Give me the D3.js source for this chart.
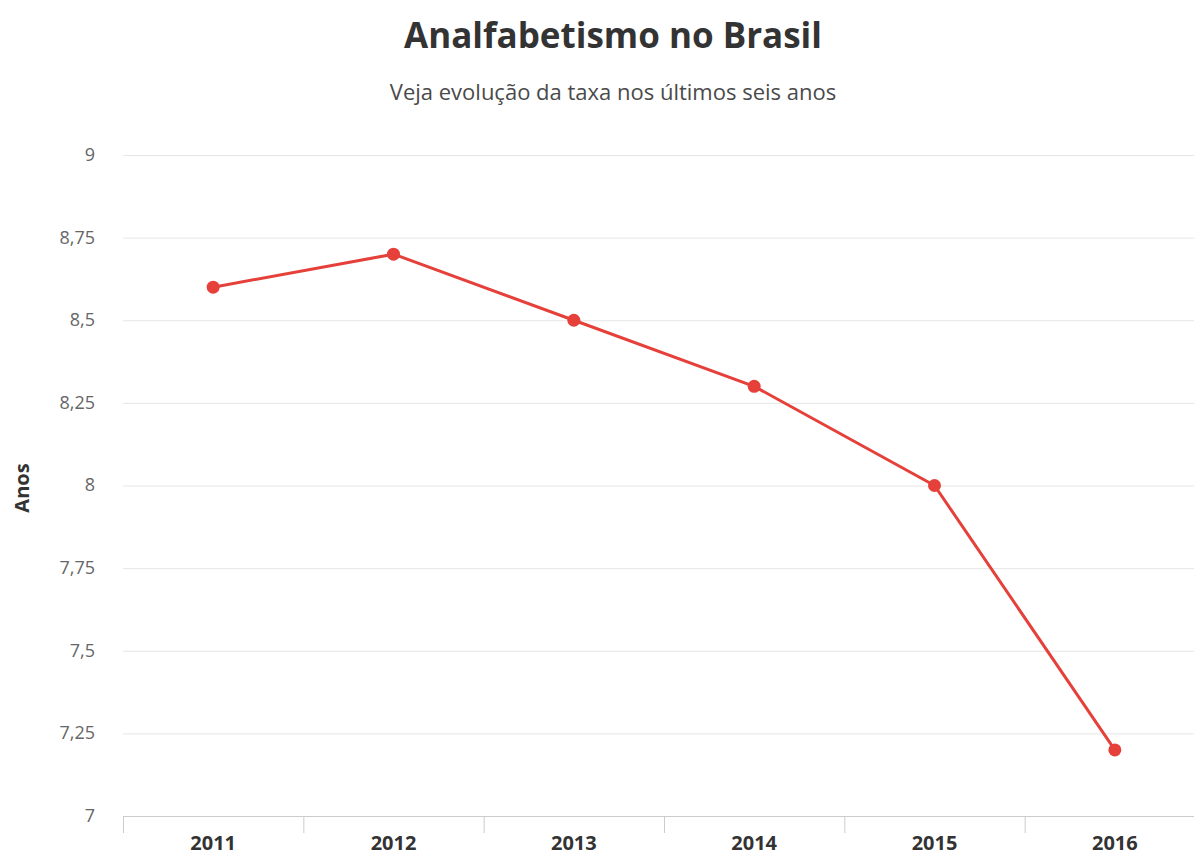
<!DOCTYPE html>
<html>
<head>
<meta charset="utf-8">
<script src="https://cdn.jsdelivr.net/npm/d3@7"></script>
<style>
html,body{margin:0;padding:0;background:#fff;}
svg{display:block;font-family:"Open Sans",sans-serif;}
</style>
</head>
<body>
<svg id="chart" width="1194" height="855"></svg>
<script>
const title = "Analfabetismo no Brasil";
const subtitle = "Veja evolução da taxa nos últimos seis anos";
const yAxisTitle = "Anos";
const categories = ["2011","2012","2013","2014","2015","2016"];
const values = [8.6, 8.7, 8.5, 8.3, 8.0, 7.2];
const yTicks = [7, 7.25, 7.5, 7.75, 8, 8.25, 8.5, 8.75, 9];

(function(){
const svg = d3.select("#chart");
const W = 1194, H = 855;
const plotLeft = 123, plotRight = 1205, plotTop = 155, plotBottom = 816;

const x = d3.scaleBand().domain(categories).range([plotLeft, plotRight]);
const y = d3.scaleLinear().domain([7, 9]).range([plotBottom, plotTop]);
const fmt = v => String(v).replace(".", ",");

// title
svg.append("text").attr("x", 613).attr("y", 48).attr("text-anchor","middle")
  .attr("font-size", 35).attr("font-weight", 700).attr("fill", "#333").text(title);
svg.append("text").attr("x", 613).attr("y", 100).attr("text-anchor","middle")
  .attr("font-size", 22).attr("fill", "#4a4a4a").text(subtitle);

// grid
const yAxis = svg.append("g").attr("transform", `translate(${plotLeft},0)`)
  .call(d3.axisLeft(y).tickValues(yTicks).tickFormat(fmt).tickSize(-(W-plotLeft)).tickPadding(14));
yAxis.select(".domain").remove();
yAxis.selectAll(".tick line").attr("stroke", "#e6e6e6").attr("stroke-width", 1)
  .filter(d => d === 7).remove();
yAxis.selectAll(".tick text").attr("font-size", 18).attr("fill", "#666")
  .attr("font-family", "'Open Sans',sans-serif").attr("x", -28).attr("dy", "0.3em")
  .attr("text-anchor","end");

// x axis
const xAxis = svg.append("g").attr("transform", `translate(0,${plotBottom})`)
  .call(d3.axisBottom(x).tickSize(0).tickPadding(20));
xAxis.select(".domain").attr("stroke", "#ccc").attr("d", `M${plotLeft},0.5H${W}`);
xAxis.selectAll(".tick text").attr("font-size", 20).attr("font-weight", 700).attr("fill", "#333")
  .attr("font-family", "'Open Sans',sans-serif");
// band boundary ticks
const bounds = categories.map(c => x(c));
svg.append("g").selectAll("line").data(bounds).join("line")
  .attr("x1", d => d + 0.5).attr("x2", d => d + 0.5)
  .attr("y1", plotBottom).attr("y2", plotBottom + 17)
  .attr("stroke", "#ccc").attr("stroke-width", 1);

// y axis title
svg.append("text").attr("transform", `translate(29,488) rotate(-90)`)
  .attr("text-anchor","middle").attr("font-size", 20).attr("font-weight", 700)
  .attr("fill", "#333").text(yAxisTitle);

// line
const cx = c => x(c) + x.bandwidth()/2;
const line = d3.line().x((d,i) => cx(categories[i])).y(d => y(d));
svg.append("path").datum(values).attr("d", line)
  .attr("fill", "none").attr("stroke", "#e5403a").attr("stroke-width", 3)
  .attr("stroke-linejoin", "round");
svg.append("g").selectAll("circle").data(values).join("circle")
  .attr("cx", (d,i) => cx(categories[i])).attr("cy", d => y(d)).attr("r", 6.5)
  .attr("fill", "#e5403a");
})();
</script>
</body>
</html>
